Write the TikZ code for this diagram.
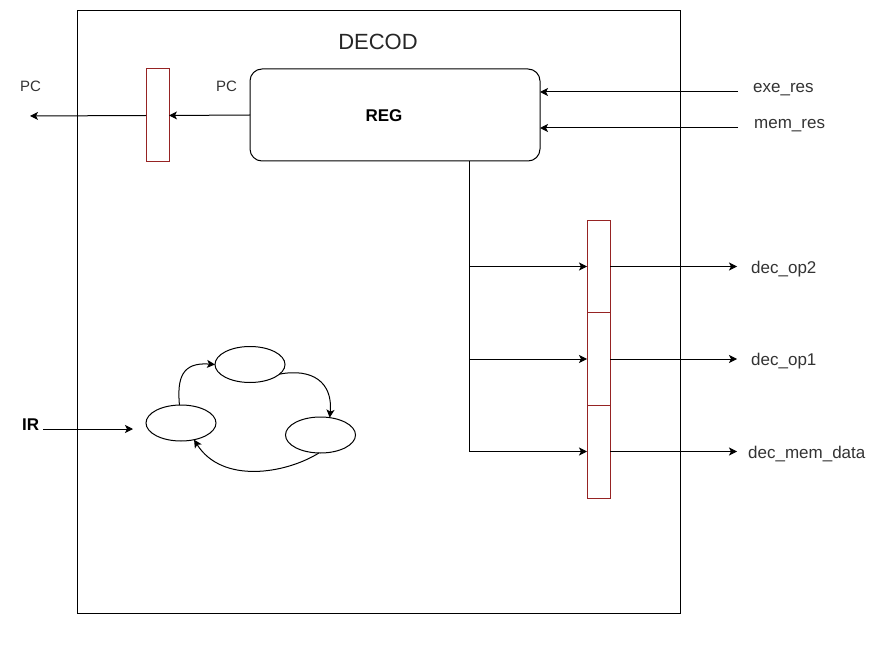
\documentclass[tikz,border=0pt]{standalone}
\usepackage{fontspec}
\setmainfont{Liberation Sans}
\usetikzlibrary{arrows.meta,shapes.geometric}
\definecolor{latchred}{RGB}{150,35,35}
\begin{document}
\begin{tikzpicture}[x=1pt,y=-1pt,
  wire/.style={line width=1pt, draw=black},
  arr/.style={wire, -{Stealth[length=8pt,width=8pt,inset=2pt]}},
  latch/.style={draw=latchred, line width=1pt, minimum width=23pt, minimum height=93pt,
    inner sep=0pt, outer sep=0pt, fill=white},
  state/.style={ellipse, draw, line width=1pt, minimum width=70pt, minimum height=36pt,
    inner sep=0pt, outer sep=0pt},
  lbl/.style={font=\fontsize{17}{20}\selectfont, text=black!80, inner sep=0pt},
  pclbl/.style={font=\fontsize{15}{18}\selectfont, text=black!80, inner sep=0pt}
]
\useasboundingbox (0,0) rectangle (874,652);

% stage frame and title
\node[draw, line width=1pt, minimum width=603pt, minimum height=602pt,
      inner sep=0pt, outer sep=0pt] (decod) at (378.5,312) {};
\node[font=\fontsize{22}{26}\selectfont, text=black!85, anchor=base, inner sep=0pt]
      (title) at (378,50) {DECOD};

% register file
\node[draw, line width=1pt, rounded corners=12pt, minimum width=290pt,
      minimum height=92pt, inner sep=0pt, outer sep=0pt] (reg) at (395,115) {};
\node[font=\bfseries\fontsize{17}{20}\selectfont, anchor=base, inner sep=0pt]
      (reglbl) at (384,122) {REG};

% PC pipeline latch
\node[latch] (pcr) at (157.5,115.5) {};
\coordinate (pcout) at (30,116);
\draw[arr] (reg.west) -- (pcr.east);
\draw[arr] (pcr.west) -- (pcout);
\node[pclbl, anchor=base west] (pcl1) at (20,92) {PC};
\node[pclbl, anchor=base west] (pcl2) at (216,92) {PC};

% results written back into the register file
\coordinate (exein) at (738,92);
\coordinate (memin) at (738,128);
\draw[arr] (exein) -- (reg.east |- exein);
\draw[arr] (memin) -- (reg.east |- memin);
\node[lbl, anchor=base west] (exel) at (753,93) {exe\_res};
\node[lbl, anchor=base west] (meml) at (754,129) {mem\_res};

% operand latches
\node[latch] (o2) at (598.5,266.5) {};
\node[latch] (o1) at (598.5,359) {};
\node[latch] (om) at (598.5,451.5) {};

% bus from the register file to the latches
\coordinate (bus) at (469,0);
\draw[wire] (reg.south -| bus) -- (bus |- om.west);
\draw[arr] (bus |- o2.west) -- (o2.west);
\draw[arr] (bus |- o1.west) -- (o1.west);
\draw[arr] (bus |- om.west) -- (om.west);

% outputs
\coordinate (outx) at (737,0);
\draw[arr] (o2.east) -- (o2.east -| outx);
\draw[arr] (o1.east) -- (o1.east -| outx);
\draw[arr] (om.east) -- (om.east -| outx);
\node[lbl, anchor=base west] (op2l) at (751,273) {dec\_op2};
\node[lbl, anchor=base west] (op1l) at (751,365) {dec\_op1};
\node[lbl, anchor=base west] (mdl) at (748,458) {dec\_mem\_data};

% instruction input and control state machine
\node[font=\bfseries\fontsize{17}{20}\selectfont, anchor=base west, inner sep=0pt]
      (irl) at (22,430) {IR};
\coordinate (irin) at (43,429);
\coordinate (irend) at (133,429);
\draw[arr] (irin) -- (irend);

\node[state] (sa) at (181,423) {};
\node[state] (sb) at (250,364.5) {};
\node[state] (sc) at (320.5,435) {};

\draw[arr] (sa.95) .. controls (177,378) and (182,362) .. (sb.west);
\draw[arr] (sb.-18) .. controls (312,368) and (333,382) .. (sc.62);
\draw[arr] (sc.-95) .. controls (285,474) and (222,484) .. (sa.-52);
\end{tikzpicture}
\end{document}
